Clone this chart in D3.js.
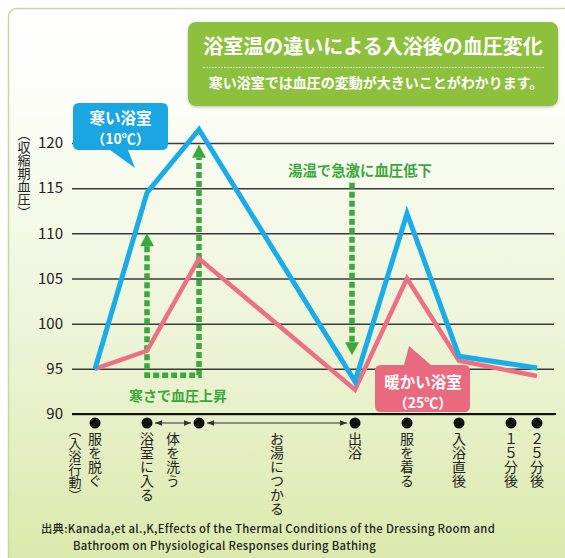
<!DOCTYPE html>
<html lang="ja">
<head>
<meta charset="utf-8">
<script src="https://cdn.jsdelivr.net/npm/d3@7"></script>
<style>
  html, body { margin: 0; padding: 0; background: #fff; }
  svg { display: block; font-family: "Noto Sans CJK JP", "Noto Sans", sans-serif; }
</style>
</head>
<body>
<svg id="chart" width="565" height="558"></svg>
<script>
// Bathing timeline: position of each event along the x axis
const pointSteps  = [0, 1, 2, 5, 6, 7, 8, 8.5];
const pointLabels = ["服を脱ぐ", "浴室に入る", "", "出浴", "服を着る", "入浴直後", "１５分後", "２５分後"];
// Phases spanning two events
const phaseLabels = ["体を洗う", "お湯につかる"];
const phaseFrom   = [1, 2];
const phaseTo     = [2, 5];
// Systolic blood pressure (mmHg); null = no measurement drawn
const coldBath = [95, 114.5, 121.5, 93.6, 112.2, 96.4, null, 95.1];   // 10℃ bathroom
const warmBath = [95, 97.0, 107.2, 92.7, 105.0, 95.9, null, 94.2];    // 25℃ bathroom
const yTicks = [90, 95, 100, 105, 110, 115, 120];

const svg = d3.select("#chart");
const defs = svg.append("defs");

const bg = defs.append("linearGradient").attr("id", "panelBg")
  .attr("x1", 0).attr("y1", 0).attr("x2", 0).attr("y2", 1);
bg.append("stop").attr("offset", "0%").attr("stop-color", "#ffffff");
bg.append("stop").attr("offset", "12%").attr("stop-color", "#fdfefa");
bg.append("stop").attr("offset", "55%").attr("stop-color", "#ecf3d5");
bg.append("stop").attr("offset", "100%").attr("stop-color", "#d6e69e");

const shadow = defs.append("filter").attr("id", "soft")
  .attr("x", "-5%").attr("y", "-10%").attr("width", "110%").attr("height", "130%");
shadow.append("feDropShadow").attr("dx", 0).attr("dy", 1).attr("stdDeviation", 1.5)
  .attr("flood-color", "#000").attr("flood-opacity", 0.25);

// Panel
svg.append("rect").attr("x", 8.5).attr("y", 8.5).attr("width", 620).attr("height", 620)
  .attr("rx", 8).attr("fill", "url(#panelBg)").attr("stroke", "#c6d89c").attr("stroke-width", 1.5);

// Title box
const tb = svg.append("g");
tb.append("rect").attr("x", 188).attr("y", 22).attr("width", 370).attr("height", 84)
  .attr("rx", 8).attr("fill", "#8dc13d").attr("filter", "url(#soft)");
tb.append("text").attr("x", 373).attr("y", 45).attr("text-anchor", "middle")
  .attr("dominant-baseline", "central").attr("fill", "#fff").attr("font-size", 20)
  .attr("font-weight", 700).text("浴室温の違いによる入浴後の血圧変化");
tb.append("line").attr("x1", 203).attr("x2", 545).attr("y1", 67.5).attr("y2", 67.5)
  .attr("stroke", "#fff").attr("stroke-width", 1).attr("stroke-dasharray", "1.5,1.5");
tb.append("text").attr("x", 376).attr("y", 82).attr("text-anchor", "middle")
  .attr("dominant-baseline", "central").attr("fill", "#fff").attr("font-size", 14)
  .attr("font-weight", 700).text("寒い浴室では血圧の変動が大きいことがわかります。");

// Scales
const x = d3.scaleLinear().domain([0, 8.5]).range([95, 537]);
const y = d3.scaleLinear().domain([90, 120]).range([414, 143]);

// Y axis with gridlines
const yAxis = svg.append("g").attr("transform", "translate(72,0)")
  .call(d3.axisLeft(y).tickValues(yTicks).tickSize(-482).tickPadding(9));
yAxis.select(".domain").remove();
yAxis.selectAll(".tick line").attr("stroke", "#3a3a3a").attr("stroke-width", 1.5);
yAxis.selectAll(".tick text").attr("fill", "#222").attr("font-size", 15)
  .attr("font-family", "\"Noto Sans CJK JP\", sans-serif");
// Baseline at 90
svg.append("line").attr("x1", 72).attr("x2", 556).attr("y1", y(90)).attr("y2", y(90))
  .attr("stroke", "#111").attr("stroke-width", 2);

// Y axis title (vertical)
svg.append("text").attr("x", 24).attr("y", 128).attr("writing-mode", "vertical-rl")
  .attr("font-size", 13).attr("fill", "#222").text("（収縮期血圧）");

// Green annotations
const green = "#3aa93c";
const riseBase = 94.3, riseTip1 = 110.0, riseTip2 = 119.8;
const head = 13, halfW = 7;
svg.append("path")
  .attr("d", `M${x(1)},${y(riseTip1) + head} V${y(riseBase)} H${x(2)} V${y(riseTip2) + head}`)
  .attr("fill", "none").attr("stroke", green).attr("stroke-width", 5.5)
  .attr("stroke-dasharray", "6,3");
function upHead(cx, tipY) {
  svg.append("path").attr("d", `M${cx},${tipY} L${cx + halfW},${tipY + head} L${cx - halfW},${tipY + head}Z`)
    .attr("fill", green);
}
upHead(x(1), y(riseTip1));
upHead(x(2), y(riseTip2));
svg.append("text").attr("x", 178).attr("y", 395).attr("text-anchor", "middle")
  .attr("dominant-baseline", "central").attr("fill", green).attr("font-size", 14)
  .attr("font-weight", 700).text("寒さで血圧上昇");

const dropX = x(5) - 3, dropFrom = 115.6, dropTo = 96.5;
svg.append("line").attr("x1", dropX).attr("x2", dropX)
  .attr("y1", y(dropFrom)).attr("y2", y(dropTo) - head)
  .attr("stroke", green).attr("stroke-width", 5.5).attr("stroke-dasharray", "6,3");
svg.append("path")
  .attr("d", `M${dropX},${y(dropTo)} L${dropX + halfW},${y(dropTo) - head} L${dropX - halfW},${y(dropTo) - head}Z`)
  .attr("fill", green);
svg.append("text").attr("x", 360).attr("y", 169).attr("text-anchor", "middle")
  .attr("dominant-baseline", "central").attr("fill", green).attr("font-size", 14.4)
  .attr("font-weight", 700).text("湯温で急激に血圧低下");

// Series lines
const line = d3.line().x(d => x(d.step)).y(d => y(d.v));
function series(values) {
  return values.map((v, i) => ({ step: pointSteps[i], v })).filter(d => d.v !== null);
}
svg.append("path").datum(series(warmBath)).attr("d", line)
  .attr("fill", "none").attr("stroke", "#ee6e84").attr("stroke-width", 4.5)
  .attr("stroke-linejoin", "miter");
svg.append("path").datum(series(coldBath)).attr("d", line)
  .attr("fill", "none").attr("stroke", "#19ace9").attr("stroke-width", 5)
  .attr("stroke-linejoin", "miter");

// Callouts
const blue = "#1aa6e2", pink = "#e9697e";
svg.append("path")
  .attr("d", "M79,103 H162 Q168,103 168,109 V144 Q168,150 162,150 H128 L135,168 L110,150 H79 Q73,150 73,144 V109 Q73,103 79,103 Z")
  .attr("fill", blue);
svg.append("text").attr("x", 120.5).attr("y", 117).attr("text-anchor", "middle")
  .attr("dominant-baseline", "central").attr("fill", "#fff").attr("font-size", 15.5)
  .attr("font-weight", 700).text("寒い浴室");
svg.append("text").attr("x", 120.5).attr("y", 138).attr("text-anchor", "middle")
  .attr("dominant-baseline", "central").attr("fill", "#fff").attr("font-size", 14)
  .attr("font-weight", 700).text("（10℃）");

svg.append("path")
  .attr("d", "M381,365 H404 L409,346 L431,365 H464 Q470,365 470,371 V406 Q470,412 464,412 H381 Q375,412 375,406 V371 Q375,365 381,365 Z")
  .attr("fill", pink);
svg.append("text").attr("x", 423).attr("y", 381).attr("text-anchor", "middle")
  .attr("dominant-baseline", "central").attr("fill", "#fff").attr("font-size", 15.5)
  .attr("font-weight", 700).text("暖かい浴室");
svg.append("text").attr("x", 423).attr("y", 402).attr("text-anchor", "middle")
  .attr("dominant-baseline", "central").attr("fill", "#fff").attr("font-size", 14)
  .attr("font-weight", 700).text("（25℃）");

// Event dots and labels
const dotY = 423;
svg.append("g").selectAll("circle").data(pointSteps).join("circle")
  .attr("cx", d => x(d)).attr("cy", dotY).attr("r", 5.5).attr("fill", "#111");
svg.append("g").selectAll("text").data(pointSteps).join("text")
  .attr("x", d => x(d)).attr("y", 432).attr("writing-mode", "vertical-rl")
  .attr("font-size", 14).attr("fill", "#222")
  .text((d, i) => pointLabels[i]);
svg.append("text").attr("x", 75).attr("y", 424).attr("writing-mode", "vertical-rl")
  .attr("font-size", 13).attr("fill", "#222").text("（入浴行動）");

// Phase arrows and labels
const arrowHead = defs.append("marker").attr("id", "ah").attr("viewBox", "0 0 10 10")
  .attr("refX", 10).attr("refY", 5).attr("markerWidth", 7).attr("markerHeight", 7)
  .attr("markerUnits", "userSpaceOnUse").attr("orient", "auto-start-reverse");
arrowHead.append("path").attr("d", "M0,1 L10,5 L0,9 Z").attr("fill", "#333");
phaseLabels.forEach((lab, i) => {
  const x0 = x(phaseFrom[i]) + 8, x1 = x(phaseTo[i]) - 8;
  svg.append("line").attr("x1", x0).attr("x2", x1).attr("y1", dotY).attr("y2", dotY)
    .attr("stroke", "#333").attr("stroke-width", 1.2)
    .attr("marker-start", "url(#ah)").attr("marker-end", "url(#ah)");
  svg.append("text").attr("x", (x(phaseFrom[i]) + x(phaseTo[i])) / 2).attr("y", 432)
    .attr("writing-mode", "vertical-rl").attr("font-size", 14).attr("fill", "#222").text(lab);
});

// Source
svg.append("text").attr("x", 41).attr("y", 533).attr("font-size", 11.3).attr("font-weight", 500)
  .attr("letter-spacing", 0.3)
  .attr("fill", "#222").text("出典:Kanada,et al.,K,Effects of the Thermal Conditions of the Dressing Room and");
svg.append("text").attr("x", 73).attr("y", 550).attr("font-size", 11.3).attr("font-weight", 500)
  .attr("letter-spacing", 0.3)
  .attr("fill", "#222").text("Bathroom on Physiological Responses during Bathing");
</script>
</body>
</html>
